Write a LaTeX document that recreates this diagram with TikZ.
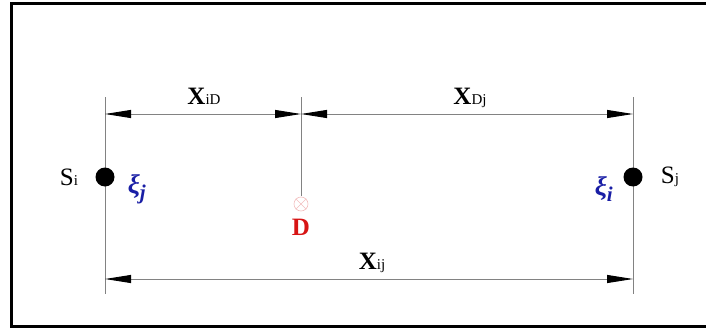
\documentclass[tikz,border=0pt]{standalone}
\usepackage{fontspec}
\setmainfont{Liberation Serif}
\usetikzlibrary{arrows.meta}
\definecolor{xiblue}{RGB}{25,30,165}
\definecolor{dred}{RGB}{215,20,20}
\definecolor{crosspink}{RGB}{242,190,190}
\definecolor{extgray}{RGB}{130,130,130}
\tikzset{
  extline/.style={draw=extgray, line width=0.9pt},
  dimline/.style={draw=extgray, line width=0.9pt},
  tipB/.style={{Triangle[length=26pt,width=8pt,fill=black,color=black]}-{Triangle[length=26pt,width=8pt,fill=black,color=black]}},
  dot/.style={circle, fill=black, inner sep=0pt, minimum size=19pt},
  dimlabel/.style={inner sep=0pt, anchor=base, font=\fontsize{25}{25}\selectfont\bfseries},
  slabel/.style={inner sep=0pt, font=\fontsize{25}{25}\selectfont},
  xilabel/.style={inner sep=0pt, text=xiblue, font=\fontsize{27}{27}\selectfont\bfseries\itshape},
  dlabel/.style={inner sep=0pt, text=dred, font=\fontsize{25}{25}\selectfont\bfseries},
}
\newcommand{\dimsub}[1]{{\fontsize{15}{15}\selectfont\mdseries #1}}
\newcommand{\ssub}[1]{{\fontsize{15}{15}\selectfont #1}}
\begin{document}
\begin{tikzpicture}[x=1pt,y=-1pt]
\useasboundingbox (0,0) rectangle (706,329);
% frame
\draw[line width=3pt] (706,4) -- (11,4) -- (11,326) -- (706,326);
% extension lines
\coordinate (Lt) at (105,97);
\coordinate (Lb) at (105,294);
\coordinate (Rt) at (633,97);
\coordinate (Rb) at (633,294);
\coordinate (Dt) at (301,97);
\coordinate (Db) at (301,196);
\draw[extline] (Lt) -- (Lb);
\draw[extline] (Rt) -- (Rb);
\draw[extline] (Dt) -- (Db);
% dimension line endpoints
\coordinate (aL) at (105,114);
\coordinate (aD) at (301,114);
\coordinate (aR) at (633,114);
\coordinate (bL) at (105,279);
\coordinate (bR) at (633,279);
\draw[dimline, tipB] (aL) -- (aD);
\draw[dimline, tipB] (aD) -- (aR);
\draw[dimline, tipB] (bL) -- (bR);
% dimension labels
\node[dimlabel] (liD) at (204,104) {X\dimsub{iD}};
\node[dimlabel] (lDj) at (470,104) {X\dimsub{Dj}};
\node[dimlabel] (lij) at (372,269) {X\dimsub{ij}};
% stations
\node[dot] (Si) at (105,177) {};
\node[dot] (Sj) at (633,177) {};
\node[slabel] (tSi) at (69,177) {S\ssub{i}};
\node[slabel] (tSj) at (670,177) {S\ssub{j}};
\node[xilabel] (xij) at (137,189) {ξ\textsubscript{\fontsize{21}{21}\selectfont j}};
\node[xilabel] (xii) at (604,189) {ξ\textsubscript{\fontsize{21}{21}\selectfont i}};
% point D
\node[draw=crosspink, circle, inner sep=0pt, minimum size=14pt, line width=0.6pt] (Dc) at (301,204) {};
\draw[crosspink, line width=0.6pt] (Dc.north west) -- (Dc.south east) (Dc.north east) -- (Dc.south west);
\node[dlabel] (Dl) at (301,227) {D};
\end{tikzpicture}
\end{document}
